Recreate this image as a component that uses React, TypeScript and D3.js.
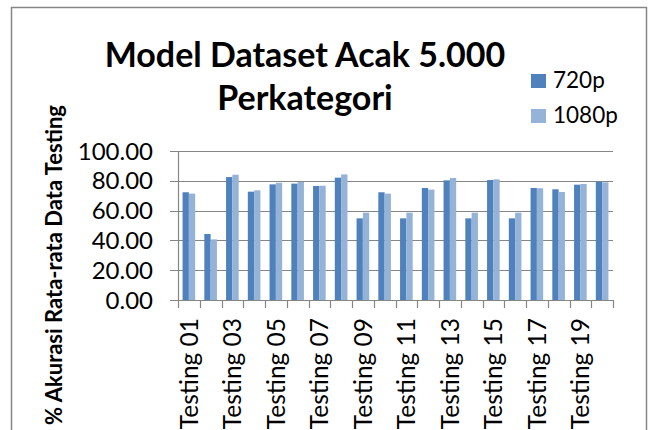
import React, { useEffect, useRef } from 'react';
import * as d3 from 'd3';

// categories Testing 01 .. Testing 20
const categories = [
  'Testing 01', 'Testing 02', 'Testing 03', 'Testing 04', 'Testing 05',
  'Testing 06', 'Testing 07', 'Testing 08', 'Testing 09', 'Testing 10',
  'Testing 11', 'Testing 12', 'Testing 13', 'Testing 14', 'Testing 15',
  'Testing 16', 'Testing 17', 'Testing 18', 'Testing 19', 'Testing 20',
];
const series = ['720p', '1080p'];
const values720 = [72.3, 44.3, 82.5, 72.7, 77.6, 78.1, 76.5, 82.1, 54.8, 72.3, 54.8, 75.2, 80.3, 54.8, 80.5, 54.8, 75.2, 74.3, 77.4, 79.4];
const values1080 = [71.4, 40.7, 84.1, 73.6, 78.7, 79.2, 76.7, 84.3, 58.6, 71.4, 58.6, 74.1, 81.9, 58.6, 81.0, 58.6, 75.0, 72.5, 77.9, 79.0];
const yTicks = [0, 20, 40, 60, 80, 100];
const colors = ['#4F81BD', '#95B3D7'];

const FONT = 'Lato, "Open Sans", sans-serif';
const GRID = '#868686';

export default function App() {
  const ref = useRef<SVGSVGElement>(null);

  useEffect(() => {
    const svg = d3.select(ref.current);
    svg.selectAll('*').remove();

    const width = 649;
    const height = 430;
    const margin = { top: 151, left: 178, bottom: 130, right: 36 };
    const iwidth = width - margin.left - margin.right;
    const iheight = height - margin.top - margin.bottom;

    // outer frame
    svg.append('rect')
      .attr('x', 11.5).attr('y', 7.5)
      .attr('width', 635).attr('height', 440)
      .attr('fill', 'white')
      .attr('stroke', GRID).attr('stroke-width', 1.5);

    const g = svg.append('g').attr('transform', `translate(${margin.left}, ${margin.top})`);

    const y = d3.scaleLinear().domain([0, 100]).range([iheight, 0]);
    const x = d3.scaleBand().domain(categories).range([0, iwidth]).paddingInner(0).paddingOuter(0);
    const inner = d3.scaleBand().domain(series)
      .range([x.bandwidth() * 0.21, x.bandwidth() * 0.79]);

    // gridlines
    g.selectAll('line.grid').data(yTicks).enter()
      .append('line')
      .attr('class', 'grid')
      .attr('x1', -8).attr('x2', iwidth)
      .attr('y1', d => Math.round(y(d)) + 0.5).attr('y2', d => Math.round(y(d)) + 0.5)
      .attr('stroke', GRID).attr('stroke-width', 1.2);

    // y axis line
    g.append('line')
      .attr('x1', 0.5).attr('x2', 0.5)
      .attr('y1', y(100)).attr('y2', y(0))
      .attr('stroke', GRID).attr('stroke-width', 1.2);

    // y tick labels
    g.selectAll('text.ytick').data(yTicks).enter()
      .append('text')
      .attr('class', 'ytick')
      .attr('x', -25)
      .attr('y', d => y(d))
      .attr('dy', '0.36em')
      .attr('text-anchor', 'end')
      .attr('font-family', FONT)
      .attr('font-size', 24)
      .attr('fill', '#000')
      .text(d => d.toFixed(2));

    // bars
    const data = [values720, values1080];
    series.forEach((s, si) => {
      g.selectAll(`rect.bar${si}`).data(data[si]).enter()
        .append('rect')
        .attr('class', `bar${si}`)
        .attr('x', (d, i) => (x(categories[i]) as number) + (inner(s) as number))
        .attr('y', d => y(d))
        .attr('width', inner.bandwidth())
        .attr('height', d => iheight - y(d))
        .attr('fill', colors[si]);
    });

    // x axis
    g.append('line')
      .attr('x1', 0).attr('x2', iwidth)
      .attr('y1', iheight + 0.5).attr('y2', iheight + 0.5)
      .attr('stroke', GRID).attr('stroke-width', 1.2);

    const bounds = categories.map(c => x(c) as number).concat([iwidth]);
    g.selectAll('line.xtick').data(bounds).enter()
      .append('line')
      .attr('class', 'xtick')
      .attr('x1', d => Math.round(d) + 0.5).attr('x2', d => Math.round(d) + 0.5)
      .attr('y1', iheight).attr('y2', iheight + 8)
      .attr('stroke', GRID).attr('stroke-width', 1.2);

    g.selectAll('text.xtick').data(categories.filter((c, i) => i % 2 === 0)).enter()
      .append('text')
      .attr('class', 'xtick')
      .attr('transform', d => `translate(${(x(d) as number) + x.bandwidth() / 2}, ${iheight + 18}) rotate(-90)`)
      .attr('dy', '0.36em')
      .attr('text-anchor', 'end')
      .attr('font-family', FONT)
      .attr('font-size', 24.5)
      .attr('fill', '#000')
      .text(d => d);

    // y title
    svg.append('text')
      .attr('transform', 'translate(62, 265) rotate(-90)')
      .attr('text-anchor', 'middle')
      .attr('font-family', FONT)
      .attr('font-weight', 'bold')
      .attr('font-size', 22)
      .attr('fill', '#000')
      .text('% Akurasi Rata-rata Data Testing');

    // title
    const title = svg.append('text')
      .attr('text-anchor', 'middle')
      .attr('font-family', FONT)
      .attr('font-weight', 'bold')
      .attr('font-size', 34)
      .attr('fill', '#000');
    title.append('tspan').attr('x', 305).attr('y', 67).text('Model Dataset Acak 5.000');
    title.append('tspan').attr('x', 305).attr('y', 110).text('Perkategori');

    // legend
    const legend = svg.append('g');
    series.forEach((s, i) => {
      legend.append('rect')
        .attr('x', 531).attr('y', 74 + i * 35)
        .attr('width', 15).attr('height', 14)
        .attr('fill', colors[i]);
      legend.append('text')
        .attr('x', 553).attr('y', 88 + i * 35)
        .attr('font-family', FONT)
        .attr('font-size', 22.5)
        .attr('fill', '#000')
        .text(s);
    });
  }, []);

  return (
    <svg ref={ref} width={649} height={430}
      style={{ position: 'absolute', left: 0, top: 0, background: 'white' }} />
  );
}
